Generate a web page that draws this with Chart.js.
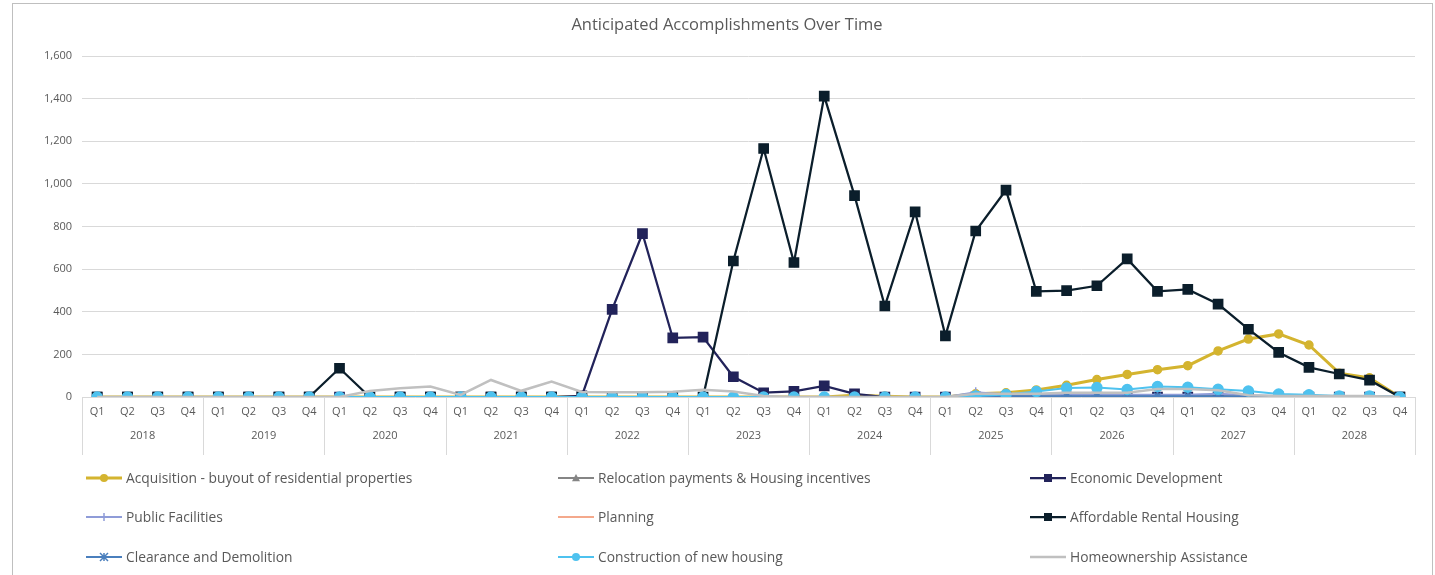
<!DOCTYPE html>
<html>
<head>
<meta charset="utf-8">
<title>Anticipated Accomplishments Over Time</title>
<script src="https://cdn.jsdelivr.net/npm/chart.js@4.4.1/dist/chart.umd.min.js"></script>
<style>
  html, body { margin: 0; padding: 0; background: #fff; }
  #wrap { position: relative; width: 1435px; height: 575px; }
</style>
</head>
<body>
<div id="wrap"><canvas id="chart" width="1435" height="575"></canvas></div>
<script>
// categories
const years = ['2018', '2019', '2020', '2021', '2022', '2023', '2024', '2025', '2026', '2027', '2028'];
const quarters = ['Q1', 'Q2', 'Q3', 'Q4'];
const yTicks = [0, 200, 400, 600, 800, 1000, 1200, 1400, 1600];

// series values, one per quarter 2018 Q1 .. 2028 Q4
const acquisition = [
  0, 0, 0, 0,  0, 0, 0, 0,  0, 0, 0, 0,  0, 0, 0, 0,  0, 0, 0, 0,
  0, 0, 0, 0,  0, 8, 3, 0,  0, 15, 20, 33,  55, 82, 106, 128,
  147, 216, 272, 296,  244, 112, 90, 0
];
const relocation = [
  0, 0, 0, 0,  0, 0, 0, 0,  0, 0, 0, 0,  0, 0, 0, 0,  0, 0, 0, 0,
  0, 0, 0, 0,  0, 0, 0, 0,  0, 5, 5, 5,  5, 5, 5, 5,
  5, 5, 3, 2,  2, 2, 2, 0
];
const economicDev = [
  0, 0, 0, 0,  0, 0, 0, 0,  0, 0, 0, 0,  0, 0, 0, 0,  5, 411, 767, 277,
  281, 95, 20, 26,  52, 15, 0, 0,  0, 0, 0, 0,  0, 0, 0, 0,
  0, 0, 0, 0,  0, 0, 0, 0
];
const publicFacilities = [
  0, 0, 0, 0,  0, 0, 0, 0,  0, 0, 0, 0,  0, 0, 0, 0,  0, 0, 0, 0,
  0, 0, 0, 0,  0, 0, 0, 0,  0, 22, 12, 10,  10, 10, 10, 10,
  10, 15, 8, 5,  3, 3, 3, 0
];
const planning = [
  0, 0, 0, 0,  0, 0, 0, 0,  0, 0, 0, 0,  0, 0, 0, 0,  0, 0, 0, 0,
  0, 0, 0, 0,  0, 0, 0, 0,  0, 0, 0, 0,  0, 0, 0, 0,
  0, 0, 0, 0,  0, 0, 0, 0
];
const affordableRental = [
  0, 0, 0, 0,  0, 0, 0, 0,  135, 0, 0, 0,  0, 0, 0, 0,  0, 0, 0, 0,
  0, 638, 1166, 631,  1412, 945, 427, 869,  287, 779, 971, 496,  499, 522, 648, 496,
  505, 436, 318, 209,  139, 108, 79, 0
];
const clearance = [
  0, 0, 0, 0,  0, 0, 0, 0,  0, 0, 0, 0,  0, 0, 0, 0,  0, 0, 0, 0,
  0, 0, 0, 0,  0, 0, 0, 0,  0, 3, 3, 3,  3, 3, 3, 3,
  3, 3, 2, 2,  2, 2, 2, 0
];
const construction = [
  0, 0, 0, 0,  0, 0, 0, 0,  0, 0, 0, 0,  0, 0, 0, 0,  0, 0, 0, 0,
  0, 0, 0, 0,  0, 0, 0, 0,  0, 5, 12, 26,  42, 44, 35, 49,
  46, 36, 28, 14,  10, 5, 5, 0
];
const homeownership = [
  0, 0, 0, 0,  0, 0, 0, 0,  0, 28, 41, 49,  10, 80, 29, 72,  24, 22, 22, 25,
  34, 26, 5, 0,  0, 0, 0, 0,  0, 15, 15, 15,  20, 20, 20, 38,
  38, 32, 8, 5,  5, 5, 5, 0
];

const labels = [];
years.forEach(() => quarters.forEach(q => labels.push(q)));

const series = [
  { label: 'Acquisition - buyout of residential properties', data: acquisition, color: '#d4b42f', style: 'circle', r: 4, w: 3 },
  { label: 'Relocation payments & Housing incentives', data: relocation, color: '#858585', style: 'triangle', r: 4, w: 2 },
  { label: 'Economic Development', data: economicDev, color: '#22235a', style: 'rect', r: 6.5, w: 2.25 },
  { label: 'Public Facilities', data: publicFacilities, color: '#8f9cd8', style: 'cross', r: 5, w: 2 },
  { label: 'Planning', data: planning, color: '#f4a98c', style: 'line', r: 4, w: 2 },
  { label: 'Affordable Rental Housing', data: affordableRental, color: '#0b1e2b', style: 'rect', r: 6.5, w: 2.25 },
  { label: 'Clearance and Demolition', data: clearance, color: '#4a7fbd', style: 'star', r: 5, w: 2 },
  { label: 'Construction of new housing', data: construction, color: '#4ec2ef', style: 'circle', r: 5, w: 2 },
  { label: 'Homeownership Assistance', data: homeownership, color: '#c0c0c0', style: 'line', r: 0, w: 2.5 }
];

const textColor = '#595959';
const font = '"Open Sans", "DejaVu Sans", sans-serif';

function marker(ctx, style, x, y, r, color) {
  ctx.save();
  ctx.fillStyle = color;
  ctx.strokeStyle = color;
  ctx.lineWidth = 1.5;
  ctx.beginPath();
  if (style === 'circle') {
    ctx.arc(x, y, r, 0, Math.PI * 2);
    ctx.fill();
  } else if (style === 'rect') {
    ctx.fillRect(x - r, y - r, r * 2, r * 2);
  } else if (style === 'triangle') {
    ctx.moveTo(x, y - r);
    ctx.lineTo(x + r, y + r * 0.8);
    ctx.lineTo(x - r, y + r * 0.8);
    ctx.closePath();
    ctx.fill();
  } else if (style === 'cross') {
    ctx.moveTo(x - r, y); ctx.lineTo(x + r, y);
    ctx.moveTo(x, y - r); ctx.lineTo(x, y + r);
    ctx.stroke();
  } else if (style === 'star') {
    ctx.moveTo(x - r, y - r); ctx.lineTo(x + r, y + r);
    ctx.moveTo(x - r, y + r); ctx.lineTo(x + r, y - r);
    ctx.moveTo(x, y - r); ctx.lineTo(x, y + r);
    ctx.stroke();
  } else if (style === 'line' && r > 0) {
    ctx.moveTo(x - r, y); ctx.lineTo(x + r, y);
    ctx.stroke();
  }
  ctx.restore();
}

// year row, separators, title, legend and frame
const decorations = {
  id: 'decorations',
  afterDraw(chart) {
    const { ctx, chartArea: a } = chart;
    const band = (a.right - a.left) / labels.length;
    ctx.save();

    ctx.strokeStyle = '#d9d9d9';
    ctx.lineWidth = 1;
    for (let i = 0; i <= years.length; i++) {
      const px = Math.round(a.left + i * 4 * band) + 0.5;
      ctx.beginPath();
      ctx.moveTo(px, a.bottom);
      ctx.lineTo(px, a.bottom + 58);
      ctx.stroke();
    }

    ctx.fillStyle = textColor;
    ctx.font = '11px ' + font;
    ctx.textAlign = 'center';
    ctx.textBaseline = 'middle';
    years.forEach((yr, i) => {
      ctx.fillText(yr, a.left + (i * 4 + 2) * band, a.bottom + 39);
    });

    ctx.font = '16.5px ' + font;
    ctx.fillText('Anticipated Accomplishments Over Time', 727, 25);

    const cols = [86, 558, 1030];
    const rows = [478, 517, 557];
    ctx.font = '13.8px ' + font;
    ctx.textAlign = 'left';
    series.forEach((s, i) => {
      const lx = cols[i % 3];
      const ly = rows[Math.floor(i / 3)];
      ctx.strokeStyle = s.color;
      ctx.lineWidth = s.w;
      ctx.beginPath();
      ctx.moveTo(lx, ly);
      ctx.lineTo(lx + 36, ly);
      ctx.stroke();
      const mr = s.style === 'rect' ? 4 : Math.min(s.r, 4);
      marker(ctx, s.style, lx + 18, ly, mr, s.color);
      ctx.fillStyle = textColor;
      ctx.fillText(s.label, lx + 40, ly + 1);
    });

    ctx.strokeStyle = '#bfbfbf';
    ctx.lineWidth = 1;
    ctx.strokeRect(12.5, 3.5, 1420, 620);
    ctx.restore();
  }
};

new Chart(document.getElementById('chart'), {
  type: 'line',
  data: {
    labels: labels,
    datasets: series.map((s, i) => ({
      label: s.label,
      data: s.data,
      borderColor: s.color,
      backgroundColor: s.color,
      borderWidth: s.w,
      pointStyle: s.style,
      pointRadius: s.r,
      pointHoverRadius: s.r,
      pointBackgroundColor: s.color,
      pointBorderColor: s.color,
      pointBorderWidth: 1.5,
      tension: 0,
      fill: false,
      order: series.length - i
    }))
  },
  options: {
    responsive: false,
    animation: false,
    layout: { padding: { top: 56, right: 20, bottom: 125, left: 0 } },
    plugins: {
      legend: { display: false },
      title: { display: false },
      tooltip: { enabled: false }
    },
    scales: {
      x: {
        offset: true,
        grid: { display: false, drawTicks: false },
        border: { display: false },
        ticks: { color: textColor, font: { size: 11, family: font }, padding: 8, autoSkip: false, maxRotation: 0 },
        afterFit(scale) { scale.height = 53; }
      },
      y: {
        min: 0,
        max: 1600,
        afterBuildTicks(scale) { scale.ticks = yTicks.map(v => ({ value: v })); },
        grid: { color: '#d9d9d9', drawTicks: false },
        border: { display: false },
        ticks: {
          color: textColor,
          font: { size: 11, family: font },
          padding: 10,
          callback: v => v.toLocaleString('en-US')
        },
        afterFit(scale) { scale.width = 82; }
      }
    }
  },
  plugins: [decorations]
});
</script>
</body>
</html>
